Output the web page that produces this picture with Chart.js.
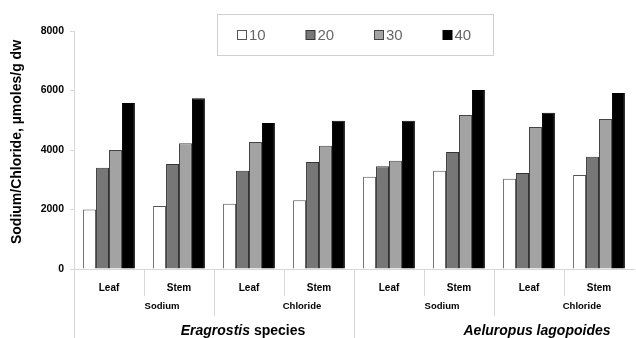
<!DOCTYPE html>
<html>
<head>
<meta charset="utf-8">
<script src="https://cdn.jsdelivr.net/npm/chart.js@4/dist/chart.umd.min.js"></script>
<style>
html,body{margin:0;padding:0;background:#fff;}
#wrap{width:636px;height:338px;position:relative;}
</style>
</head>
<body>
<div id="wrap"><canvas id="c" width="636" height="338"></canvas></div>
<script>
const categories = ['Leaf','Stem','Leaf','Stem','Leaf','Stem','Leaf','Stem'];
const ionGroups = ['Sodium','Chloride','Sodium','Chloride'];
const speciesGroups = ['Eragrostis species','Aeluropus lagopoides'];
const seriesLabels = ['10','20','30','40'];
const s10 = [2000, 2120, 2190, 2310, 3100, 3300, 3030, 3160];
const s20 = [3400, 3530, 3300, 3600, 3450, 3930, 3230, 3770];
const s30 = [4000, 4230, 4270, 4140, 3640, 5180, 4770, 5040];
const s40 = [5580, 5740, 4910, 4980, 4980, 6020, 5250, 5920];
const yTicks = [0, 2000, 4000, 6000, 8000];

const fills = ['#ffffff', '#777777', '#a3a3a3', '#000000'];
const borders = ['#555555', '#333333', '#444444', '#000000'];
const seriesData = [s10, s20, s30, s40];

const PLOT_LEFT = 74, PLOT_TOP = 31, PLOT_BOTTOM = 269;
const FONT = '"Liberation Sans", Arial, sans-serif';

const groupPlugin = {
  id: 'groups',
  afterDraw(chart) {
    const ctx = chart.ctx;
    const x = chart.scales.x;
    const area = chart.chartArea;
    const n = categories.length;
    const step = (x.getPixelForValue(1) - x.getPixelForValue(0));
    const edge = i => x.getPixelForValue(i) - step / 2;
    ctx.save();
    // dividers
    ctx.strokeStyle = '#d8d8d8';
    ctx.lineWidth = 1;
    for (let i = 0; i < n; i++) {
      let bottom;
      if (i % 4 === 0) bottom = 338;
      else if (i % 2 === 0) bottom = 316;
      else bottom = 296;
      const px = Math.round(edge(i)) + 0.5;
      ctx.beginPath();
      ctx.moveTo(px, area.bottom);
      ctx.lineTo(px, bottom);
      ctx.stroke();
    }
    // ion group labels
    ctx.fillStyle = '#000';
    ctx.textAlign = 'center';
    ctx.textBaseline = 'middle';
    ctx.font = 'bold 9.5px ' + FONT;
    ionGroups.forEach((g, k) => {
      const cx = (x.getPixelForValue(2 * k) + x.getPixelForValue(2 * k + 1)) / 2 + 18;
      ctx.fillText(g, cx, 306);
    });
    // species labels
    const sp0 = (x.getPixelForValue(0) + x.getPixelForValue(3)) / 2 + 29;
    const sp1 = (x.getPixelForValue(4) + x.getPixelForValue(7)) / 2 + 43;
    const fI = 'italic bold 14px ' + FONT, fB = 'bold 14px ' + FONT;
    const parts = speciesGroups[0].split(' ');
    ctx.font = fI;
    const w1 = ctx.measureText(parts[0] + ' ').width;
    ctx.font = fB;
    const w2 = ctx.measureText(parts[1]).width;
    const startX = sp0 - (w1 + w2) / 2;
    ctx.textAlign = 'left';
    ctx.font = fI;
    ctx.fillText(parts[0] + ' ', startX, 331);
    ctx.font = fB;
    ctx.fillText(parts[1], startX + w1, 331);
    ctx.textAlign = 'center';
    ctx.font = fI;
    ctx.fillText(speciesGroups[1], sp1, 331);

    // y-axis title
    ctx.save();
    ctx.translate(17, 142);
    ctx.rotate(-Math.PI / 2);
    ctx.textAlign = 'center';
    ctx.textBaseline = 'middle';
    ctx.fillStyle = '#000';
    ctx.font = 'bold 14px ' + FONT;
    ctx.fillText('Sodium/Chloride, µmoles/g dw', 0, 0);
    ctx.restore();

    // legend
    const lx = 217.5, ly = 14.5, lw = 276, lh = 41;
    ctx.fillStyle = '#fff';
    ctx.fillRect(lx, ly, lw, lh);
    ctx.strokeStyle = '#d0d0d0';
    ctx.strokeRect(lx, ly, lw, lh);
    ctx.font = '15px ' + FONT;
    ctx.textAlign = 'left';
    chart.data.datasets.forEach((ds, i) => {
      const bx = 237 + i * 68.5;
      const by = 30;
      ctx.fillStyle = ds.backgroundColor;
      ctx.fillRect(bx + 0.5, by + 0.5, 9, 9);
      ctx.strokeStyle = ds.borderColor;
      ctx.strokeRect(bx + 0.5, by + 0.5, 9, 9);
      ctx.fillStyle = '#666';
      ctx.fillText(ds.label, bx + 12, by + 5.5);
    });
    ctx.restore();
  }
};

new Chart(document.getElementById('c'), {
  type: 'bar',
  data: {
    labels: categories,
    datasets: seriesLabels.map((lab, i) => ({
      label: lab,
      data: seriesData[i],
      backgroundColor: fills[i],
      borderColor: borders[i],
      borderWidth: 1,
      barPercentage: 1.0,
      categoryPercentage: 0.74
    }))
  },
  options: {
    responsive: false,
    animation: false,
    devicePixelRatio: 1,
    layout: { padding: { left: 0, right: 2, top: PLOT_TOP, bottom: 0 } },
    plugins: { legend: { display: false }, tooltip: { enabled: false } },
    scales: {
      x: {
        grid: { display: false, drawTicks: false },
        border: { display: true, color: '#d8d8d8' },
        ticks: {
          font: { family: FONT, size: 10, weight: 'bold' },
          color: '#000',
          padding: 13,
          maxRotation: 0, autoSkip: false
        },
        afterFit(scale) { scale.height = 338 - PLOT_BOTTOM; }
      },
      y: {
        min: 0, max: 8000,
        afterBuildTicks(scale) { scale.ticks = yTicks.map(v => ({ value: v })); },
        grid: { display: true, drawOnChartArea: false, drawTicks: true, tickLength: 4, color: '#d8d8d8' },
        border: { display: true, color: '#d8d8d8' },
        ticks: {
          font: { family: FONT, size: 10.5, weight: 'bold' },
          color: '#000',
          padding: 6,
          callback: v => String(v)
        },
        title: { display: false },
        afterFit(scale) { scale.width = PLOT_LEFT; }
      }
    }
  },
  plugins: [groupPlugin]
});
</script>
</body>
</html>
